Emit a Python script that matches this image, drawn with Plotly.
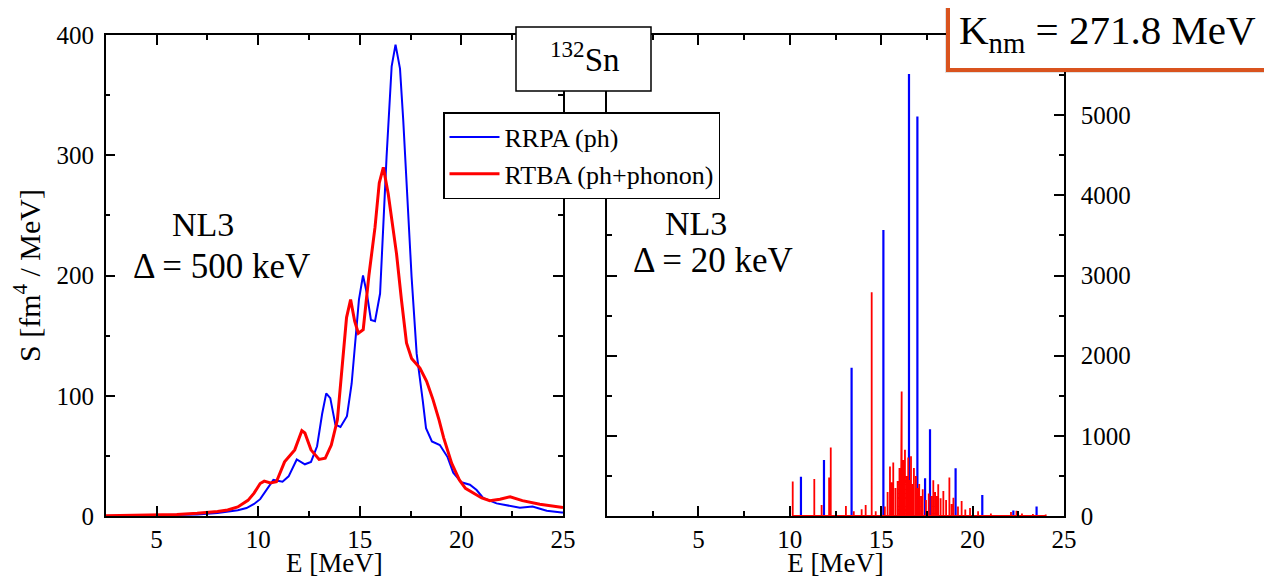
import plotly.graph_objects as go

# page body has an 8px default margin: the figure is placed at (8, 8)
OX, OY = 8, 8
W, H = 1272 - OX, 578 - OY

# ---------------- data: left panel (Delta = 500 keV), S [fm^4/MeV] ----------------
E_rrpa = [2.5, 5.0, 7.0, 8.0, 8.5, 9.0, 9.43, 9.8, 10.1, 10.4, 10.75, 11.2, 11.5, 11.9,
          12.3, 12.6, 12.9, 13.15, 13.35, 13.55, 13.8, 14.05, 14.37, 14.6, 14.96, 15.16,
          15.35, 15.55, 15.75, 16.0, 16.32, 16.57, 16.76, 16.98, 17.14, 17.55, 17.8, 18.1,
          18.26, 18.55, 18.94, 19.32, 19.6, 20.0, 20.42, 20.75, 21.07, 21.73, 22.2, 22.88,
          23.5, 24.2, 24.93, 25.0]
S_rrpa = [0.1, 0.4, 1.2, 2.5, 3.5, 4.8, 6.6, 10, 14, 21, 30, 28.5, 33, 47,
          43, 45, 58, 85, 102, 98, 76, 74, 83, 110, 180, 200,
          185, 163, 162, 185, 299, 374, 392, 372, 329, 199, 135, 96,
          73, 62, 59, 49, 36, 28, 26, 21.6, 15, 10.5, 9.1, 6.9,
          7.8, 4.4, 3.0, 3.0]

E_rtba = [2.5, 5.0, 6.0, 7.0, 7.5, 8.0, 8.5, 9.0, 9.5, 9.8, 10.1, 10.3, 10.6, 10.9,
          11.3, 11.8, 12.15, 12.3, 12.6, 13.0, 13.3, 13.6, 13.9, 14.05, 14.2, 14.35, 14.55,
          14.75, 14.93, 15.17, 15.45, 15.75, 15.96, 16.16, 16.4, 16.81, 17.05, 17.3, 17.55,
          17.96, 18.29, 18.6, 18.9, 19.13, 19.52, 19.9, 20.2, 20.58, 21.0, 21.4, 21.9,
          22.4, 23.0, 23.86, 24.9, 25.0]
S_rtba = [0.3, 0.8, 1.3, 2.2, 2.8, 3.8, 5.0, 7.5, 13, 19, 27, 29, 27.5, 28.5,
          45, 55, 71, 69, 55, 47, 48, 59, 80, 110, 140, 165, 180,
          162, 152, 155, 200, 240, 277, 290, 268, 218, 180, 144, 131,
          123, 112, 97, 80, 65, 44, 30, 23, 19, 15, 12.7, 14,
          16, 12.8, 9.7, 7.2, 7.0]

# ---------------- data: right panel (Delta = 20 keV), peak energies and heights ----------------
E_rrpa_lines = [10.61, 11.87, 13.38, 15.12, 16.52, 16.98, 17.4, 17.67, 19.07, 20.53, 22.23, 23.5]
S_rrpa_lines = [491, 700, 1850, 3567, 5512, 4983, 471, 1083, 596, 262, 70, 117]

E_rtba_lines = [10.16, 11.34, 11.74, 12.15, 12.24, 13.07, 13.5, 13.93, 14.15, 14.48, 14.7,
                15.0, 15.2, 15.35, 15.48, 15.56, 15.66, 15.78, 15.9, 16.0, 16.08, 16.12,
                16.2, 16.3, 16.4, 16.48, 16.55, 16.63, 16.72, 16.79, 16.9, 17.0, 17.08,
                17.18, 17.27, 17.45, 17.6, 17.75, 17.85, 17.95, 18.05, 18.12, 18.25, 18.4,
                18.55, 18.73, 18.85, 18.95, 19.2, 19.4, 19.6, 19.86, 20.3, 21.0, 22.1,
                22.4, 22.7, 23.3, 24.0]
S_rtba_lines = [430, 460, 137, 480, 855, 125, 60, 85, 137, 2790, 60,
                80, 120, 300, 617, 420, 667, 350, 437, 600, 908, 1554,
                700, 825, 500, 730, 450, 745, 400, 600, 500, 350, 400,
                250, 333, 200, 280, 250, 445, 300, 250, 396, 220, 312,
                200, 479, 150, 229, 120, 187, 80, 100, 60, 30, 50,
                67, 30, 25, 20]

series_names = ["RRPA (ph)", "RTBA (ph+phonon)"]
colors = ["#0000ff", "#ff0000"]

FONT = "Liberation Serif, Times New Roman, Times, DejaVu Serif, serif"


def px_x(p):
    return (p - OX) / W


def px_y(p):
    return 1 - (p - OY) / H


def sticks(E, S):
    xs, ys = [], []
    for e, s in zip(E, S):
        xs += [e, e, e]
        ys += [0, s, 0]
    return xs, ys


fig = go.Figure()
fig.add_trace(go.Scatter(x=E_rrpa, y=S_rrpa, mode="lines", name=series_names[0],
                         line=dict(color=colors[0], width=2), xaxis="x", yaxis="y",
                         legendgroup="a"))
fig.add_trace(go.Scatter(x=E_rtba, y=S_rtba, mode="lines", name=series_names[1],
                         line=dict(color=colors[1], width=3), xaxis="x", yaxis="y",
                         legendgroup="b"))
bx, by = sticks(E_rrpa_lines, S_rrpa_lines)
fig.add_trace(go.Scatter(x=bx, y=by, mode="lines", showlegend=False,
                         line=dict(color=colors[0], width=2.2), xaxis="x2", yaxis="y2"))
rx, ry = sticks(E_rtba_lines, S_rtba_lines)
fig.add_trace(go.Scatter(x=rx, y=ry, mode="lines", showlegend=False,
                         line=dict(color=colors[1], width=1.8), xaxis="x2", yaxis="y2"))

ydom = [px_y(516), px_y(35)]
common = dict(showline=True, linecolor="black", linewidth=1.5, mirror="ticks",
              ticks="inside", ticklen=10, tickwidth=1.5, tickcolor="black",
              showgrid=False, zeroline=False, automargin=False,
              tickfont=dict(family=FONT, size=25, color="black"))
minor_common = dict(ticks="inside", ticklen=5, tickwidth=1.5, tickcolor="black", tick0=0)

fig.update_layout(
    width=W, height=H,
    margin=dict(l=0, r=0, t=0, b=0, autoexpand=False),
    paper_bgcolor="white", plot_bgcolor="white",
    font=dict(family=FONT, color="black"),
    xaxis=dict(domain=[px_x(105.7), px_x(563)], range=[2.5, 25], anchor="y",
               tickmode="linear", tick0=0, dtick=5, ticklabelstandoff=0,
               minor=dict(dtick=2.5, **minor_common),
               title=dict(text="E [MeV]", font=dict(family=FONT, size=27), standoff=2),
               **common),
    yaxis=dict(domain=ydom, range=[0, 400], anchor="x",
               tickmode="linear", tick0=0, dtick=100, ticklabelstandoff=5,
               minor=dict(dtick=50, **minor_common),
               title=dict(text="S [fm<sup>4</sup> / MeV]", font=dict(family=FONT, size=30),
                          standoff=12),
               **common),
    xaxis2=dict(domain=[px_x(607), px_x(1064)], range=[0, 25], anchor="y2",
                tickmode="array", tickvals=[0, 5, 10, 15, 20, 25],
                ticktext=["", "5", "10", "15", "20", "25"], ticklabelstandoff=0,
                minor=dict(dtick=2.5, **minor_common),
                title=dict(text="E [MeV]", font=dict(family=FONT, size=27), standoff=2),
                **common),
    yaxis2=dict(domain=ydom, range=[0, 6000], anchor="x2", side="right",
                tickmode="array", tickvals=[0, 1000, 2000, 3000, 4000, 5000, 6000],
                ticktext=["0", "1000", "2000", "3000", "4000", "5000", ""],
                ticklabelstandoff=10,
                minor=dict(dtick=500, **minor_common),
                **common),
    legend=dict(x=px_x(443), y=px_y(112), xanchor="left", yanchor="top",
                bgcolor="white", bordercolor="black", borderwidth=1.5,
                font=dict(family=FONT, size=26, color="black"),
                itemwidth=50, tracegroupgap=0),
    showlegend=True,
)

shapes = [
    # 132Sn box
    dict(type="rect", xref="paper", yref="paper", x0=px_x(516), x1=px_x(651),
         y0=px_y(91), y1=px_y(27), fillcolor="white", line=dict(color="black", width=1.5),
         layer="above"),
    # K_nm box shadow
    dict(type="rect", xref="paper", yref="paper", x0=px_x(945), x1=px_x(1266),
         y0=px_y(73), y1=px_y(-10), fillcolor="rgba(0,0,0,0.12)", line=dict(width=0),
         layer="above"),
    # K_nm box
    dict(type="rect", xref="paper", yref="paper", x0=px_x(948), x1=px_x(1268),
         y0=px_y(70), y1=px_y(-10), fillcolor="white", line=dict(color="#d9531e", width=4),
         layer="above"),
]

annotations = [
    dict(text="<sup>132</sup>Sn", x=px_x(585), y=px_y(57), font=dict(size=33)),
    dict(text="K<sub>nm</sub> = 271.8 MeV", x=px_x(1107), y=px_y(33), font=dict(size=41)),
    dict(text="NL3", x=px_x(203), y=px_y(224), font=dict(size=34)),
    dict(text="Δ = 500 keV", x=px_x(221), y=px_y(266), font=dict(size=35)),
    dict(text="NL3", x=px_x(696), y=px_y(223), font=dict(size=34)),
    dict(text="Δ = 20 keV", x=px_x(713), y=px_y(260), font=dict(size=35)),
]
for a in annotations:
    a.update(xref="paper", yref="paper", showarrow=False, xanchor="center", yanchor="middle")
    a["font"].update(family=FONT, color="black")

fig.update_layout(shapes=shapes, annotations=annotations)

fig.write_html("out.html")
